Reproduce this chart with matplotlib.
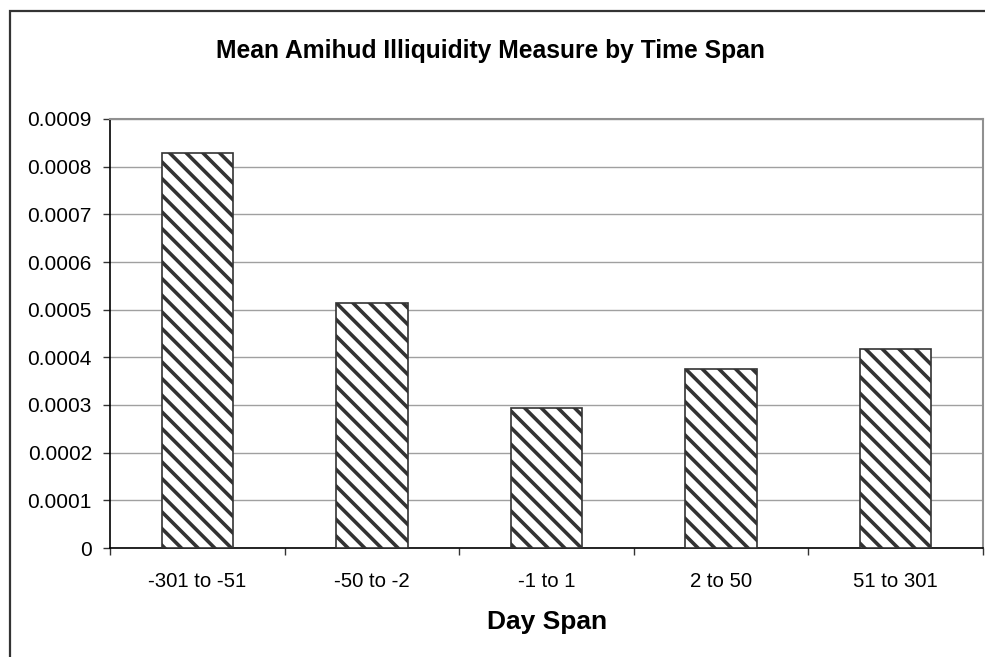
import matplotlib.pyplot as plt
from matplotlib.patches import Rectangle

# Data
spans = ["-301 to -51", "-50 to -2", "-1 to 1", "2 to 50", "51 to 301"]
amihud = [0.000828, 0.000514, 0.000294, 0.000375, 0.000417]
yticks = [0, 0.0001, 0.0002, 0.0003, 0.0004, 0.0005, 0.0006, 0.0007, 0.0008, 0.0009]
ytick_labels = ["0", "0.0001", "0.0002", "0.0003", "0.0004", "0.0005",
                "0.0006", "0.0007", "0.0008", "0.0009"]

plt.rcParams["font.family"] = ["Liberation Sans", "DejaVu Sans"]
plt.rcParams["hatch.linewidth"] = 2.6
plt.rcParams["hatch.color"] = "#333333"

W, H = 985, 657
fig = plt.figure(figsize=(W / 100, H / 100), dpi=100)
ax = fig.add_axes([110 / W, 1 - 548 / H, (983 - 110) / W, (548 - 119) / H])

# outer chart frame (right and bottom run off the picture)
fig.patches.append(Rectangle((10 / W, -0.1), 1.2, 1 - 11 / H + 0.1,
                             transform=fig.transFigure, fill=False,
                             edgecolor="#333333", linewidth=1.6))

x = range(len(spans))
ax.bar(x, amihud, width=0.41, color="white", edgecolor="#333333",
       linewidth=1.2, hatch="\\\\", zorder=3)

ax.set_xlim(-0.5, len(spans) - 0.5)
ax.set_ylim(0, 0.0009)
ax.set_yticks(yticks)
ax.set_yticklabels(ytick_labels)
ax.grid(axis="y", color="#a0a0a0", linewidth=1.0, zorder=0)

# boundary ticks on x, labels centred on categories
ax.set_xticks([i - 0.5 for i in range(len(spans) + 1)])
ax.set_xticklabels([])
ax.set_xticks(list(x), minor=True)
ax.set_xticklabels(spans, minor=True)
ax.tick_params(axis="x", which="minor", length=0, pad=17.5, labelsize=14.7)
ax.tick_params(axis="x", which="major", length=5, width=1, color="#333333")
ax.tick_params(axis="y", length=5, width=1, color="#333333", pad=8, labelsize=15)

for side in ["left", "bottom"]:
    ax.spines[side].set_color("black")
    ax.spines[side].set_linewidth(1.2)
for side in ["top", "right"]:
    ax.spines[side].set_color("#909090")
    ax.spines[side].set_linewidth(1.5)

fig.text(0.5 * (217 + 763) / W, 1 - 51 / H, "Mean Amihud Illiquidity Measure by Time Span",
         ha="center", va="center", fontsize=17.7, fontweight="bold")
fig.text(547 / W, 1 - 622 / H, "Day Span", ha="center", va="center",
         fontsize=19, fontweight="bold")

plt.savefig("out.png", dpi=100)
